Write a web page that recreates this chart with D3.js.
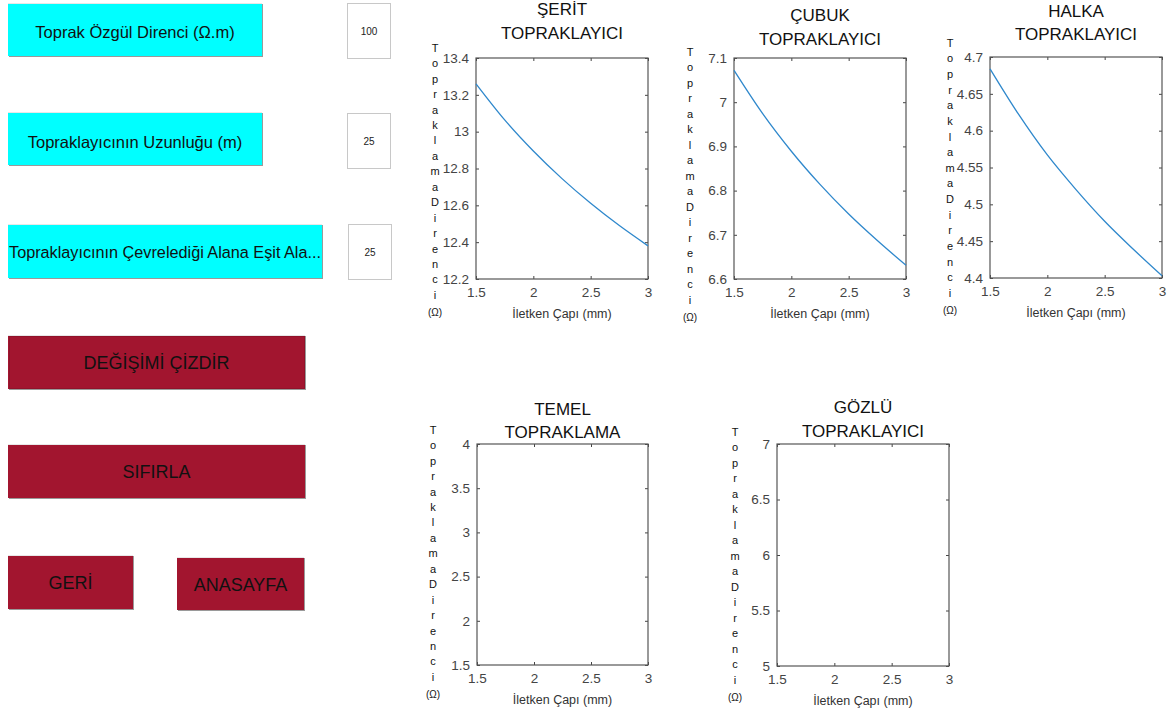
<!DOCTYPE html>
<html>
<head>
<meta charset="utf-8">
<script src="https://cdn.jsdelivr.net/npm/d3@7"></script>
<style>
  body { margin: 0; background: #fff; }
  svg { display: block; font-family: "Liberation Sans", Arial, sans-serif; }
</style>
</head>
<body>
<svg id="chart" width="1170" height="722"></svg>
<script>
// x values (iletken çapı, mm)
const diameters = [1.5, 1.75, 2, 2.25, 2.5, 2.75, 3];
// topraklama direnci values (Ω)
const seritValues = [13.26, 13.064, 12.895, 12.745, 12.611, 12.49, 12.38];
const cubukValues = [7.072, 6.974, 6.889, 6.814, 6.747, 6.687, 6.631];
const halkaValues = [4.684, 4.622, 4.567, 4.52, 4.477, 4.439, 4.403];
const temelValues = [];
const gozluValues = [];

const xTicks = [1.5, 2, 2.5, 3];
const seritTicks = [12.2, 12.4, 12.6, 12.8, 13, 13.2, 13.4];
const cubukTicks = [6.6, 6.7, 6.8, 6.9, 7, 7.1];
const halkaTicks = [4.4, 4.45, 4.5, 4.55, 4.6, 4.65, 4.7];
const temelTicks = [1.5, 2, 2.5, 3, 3.5, 4];
const gozluTicks = [5, 5.5, 6, 6.5, 7];

const inputLabels = ["Toprak Özgül Direnci (Ω.m)", "Topraklayıcının Uzunluğu (m)", "Topraklayıcının Çevrelediği Alana Eşit Ala..."];
const inputValues = ["100", "25", "25"];
const actionLabels = ["DEĞİŞİMİ ÇİZDİR", "SIFIRLA", "GERİ", "ANASAYFA"];

const yLetters = "TopraklamaDirenci".split("");
const xLabel = "İletken Çapı (mm)";

const svg = d3.select("#chart");

// ---- left control panel ----
const cyanBtns = [
  {x: 8, y: 3, w: 254, h: 53, tb: 38},
  {x: 8, y: 112, w: 254, h: 53, tb: 148},
  {x: 8, y: 224, w: 314, h: 54, tb: 258}
];
const inputBoxes = [
  {x: 347, y: 3, w: 43, h: 55},
  {x: 347, y: 113, w: 43, h: 55},
  {x: 348, y: 224, w: 43, h: 55}
];
const redBtns = [
  {x: 8, y: 335, w: 297, h: 54, tb: 369},
  {x: 8, y: 444, w: 297, h: 54, tb: 478},
  {x: 8, y: 555, w: 125, h: 54, tb: 589},
  {x: 177, y: 557, w: 127, h: 53, tb: 591}
];

function button(b, fill, label, size) {
  const g = svg.append("g");
  g.append("rect").attr("x", b.x + 1).attr("y", b.y + 1).attr("width", b.w).attr("height", b.h)
    .attr("fill", "#9a9a9a");
  g.append("rect").attr("x", b.x).attr("y", b.y).attr("width", b.w).attr("height", b.h)
    .attr("fill", fill);
  g.append("line").attr("x1", b.x).attr("x2", b.x + b.w).attr("y1", b.y + 0.5).attr("y2", b.y + 0.5)
    .attr("stroke", "#e8e8e8");
  const t = g.append("text").attr("x", b.x + b.w / 2).attr("y", b.tb)
    .attr("text-anchor", "middle").attr("font-size", size).attr("fill", "#111")
    .text(label);
  const len = t.node().getComputedTextLength();
  if (len > b.w - 2) t.attr("font-size", size * (b.w - 2) / len);
  return g;
}

cyanBtns.forEach((b, i) => button(b, "#00ffff", inputLabels[i], 16.5));
inputBoxes.forEach((b, i) => {
  svg.append("rect").attr("x", b.x + 0.5).attr("y", b.y + 0.5).attr("width", b.w).attr("height", b.h)
    .attr("fill", "#fff").attr("stroke", "#c8c8c8");
  svg.append("text").attr("x", b.x + b.w / 2 + 0.5).attr("y", b.y + b.h / 2 + 4)
    .attr("text-anchor", "middle").attr("font-size", 10).attr("fill", "#222")
    .text(inputValues[i]);
});
redBtns.forEach((b, i) => button(b, "#a2152f", actionLabels[i], 18));
// focus outline on the first action button
svg.append("rect").attr("x", 9.5).attr("y", 336.5).attr("width", 295).attr("height", 52)
  .attr("fill", "none").attr("stroke", "#6a0d1f").attr("stroke-width", 0.6).attr("stroke-dasharray", "1,1");

// ---- plots ----
const panels = [
  {title: ["ŞERİT", "TOPRAKLAYICI"], tY: [15, 39], values: seritValues, ticks: seritTicks,
   x0: 476, x1: 648, y0: 58, y1: 279, lx: 435, lT: 48, lI: 295},
  {title: ["ÇUBUK", "TOPRAKLAYICI"], tY: [21, 45], values: cubukValues, ticks: cubukTicks,
   x0: 734, x1: 906, y0: 58, y1: 279, lx: 690, lT: 52, lI: 300},
  {title: ["HALKA", "TOPRAKLAYICI"], tY: [17, 40], values: halkaValues, ticks: halkaTicks,
   x0: 990, x1: 1162, y0: 57, y1: 278, lx: 950, lT: 43, lI: 293},
  {title: ["TEMEL", "TOPRAKLAMA"], tY: [415, 438], values: temelValues, ticks: temelTicks,
   x0: 477, x1: 648, y0: 444, y1: 665, lx: 433, lT: 430, lI: 677},
  {title: ["GÖZLÜ", "TOPRAKLAYICI"], tY: [413, 437], values: gozluValues, ticks: gozluTicks,
   x0: 777, x1: 949, y0: 444, y1: 666, lx: 735, lT: 432, lI: 680}
];

panels.forEach(p => {
  const x = d3.scaleLinear().domain([1.5, 3]).range([p.x0, p.x1]);
  const y = d3.scaleLinear().domain(d3.extent(p.ticks)).range([p.y1, p.y0]);
  const g = svg.append("g");
  const cx = (p.x0 + p.x1) / 2;

  // axes with inward ticks, MATLAB style
  const bottom = g.append("g").attr("transform", `translate(0,${p.y1})`)
    .call(d3.axisBottom(x).tickValues(xTicks).tickSizeInner(-3).tickSizeOuter(0).tickPadding(12).tickFormat(d => d));
  g.append("g").attr("transform", `translate(${p.x0},0)`)
    .call(d3.axisLeft(y).tickValues(p.ticks).tickSizeInner(-3).tickSizeOuter(0).tickPadding(7).tickFormat(d => d));
  g.append("g").attr("transform", `translate(0,${p.y0})`)
    .call(d3.axisTop(x).tickValues(xTicks).tickSizeInner(-3).tickSizeOuter(0).tickFormat(""));
  g.append("g").attr("transform", `translate(${p.x1},0)`)
    .call(d3.axisRight(y).tickValues(p.ticks).tickSizeInner(-3).tickSizeOuter(0).tickFormat(""));
  g.selectAll(".domain").remove();
  g.selectAll(".tick line").attr("stroke", "#444");
  g.selectAll(".tick text").attr("font-size", 13.5).attr("fill", "#444")
    .attr("font-family", "Liberation Sans, Arial, sans-serif");
  bottom.selectAll(".tick text").attr("dy", "0.45em");

  g.append("rect").attr("x", p.x0).attr("y", p.y0).attr("width", p.x1 - p.x0).attr("height", p.y1 - p.y0)
    .attr("fill", "none").attr("stroke", "#555").attr("stroke-width", 1.2);

  // curve
  if (p.values.length) {
    const line = d3.line().x((d, i) => x(diameters[i])).y(d => y(d)).curve(d3.curveMonotoneX);
    g.append("path").datum(p.values).attr("d", line)
      .attr("fill", "none").attr("stroke", "#2f88cc").attr("stroke-width", 1.3);
  }

  // title
  p.title.forEach((t, i) => {
    g.append("text").attr("x", cx).attr("y", p.tY[i]).attr("text-anchor", "middle")
      .attr("font-size", 17).attr("fill", "#111").text(t);
  });

  // x label
  g.append("text").attr("x", cx).attr("y", p.y1 + 39).attr("text-anchor", "middle")
    .attr("font-size", 12.5).attr("fill", "#333").text(xLabel);

  // vertical stacked y label
  const step = (p.lI - p.lT) / (yLetters.length - 1);
  g.selectAll(".yl").data(yLetters).enter().append("text")
    .attr("x", p.lx).attr("y", (d, i) => p.lT + i * step)
    .attr("dy", "0.35em").attr("text-anchor", "middle")
    .attr("font-size", 11).attr("fill", "#111").text(d => d);
  g.append("text").attr("x", p.lx).attr("y", p.lI + 17).attr("dy", "0.35em")
    .attr("text-anchor", "middle").attr("font-size", 10).attr("fill", "#111").text("(Ω)");
});
</script>
</body>
</html>
